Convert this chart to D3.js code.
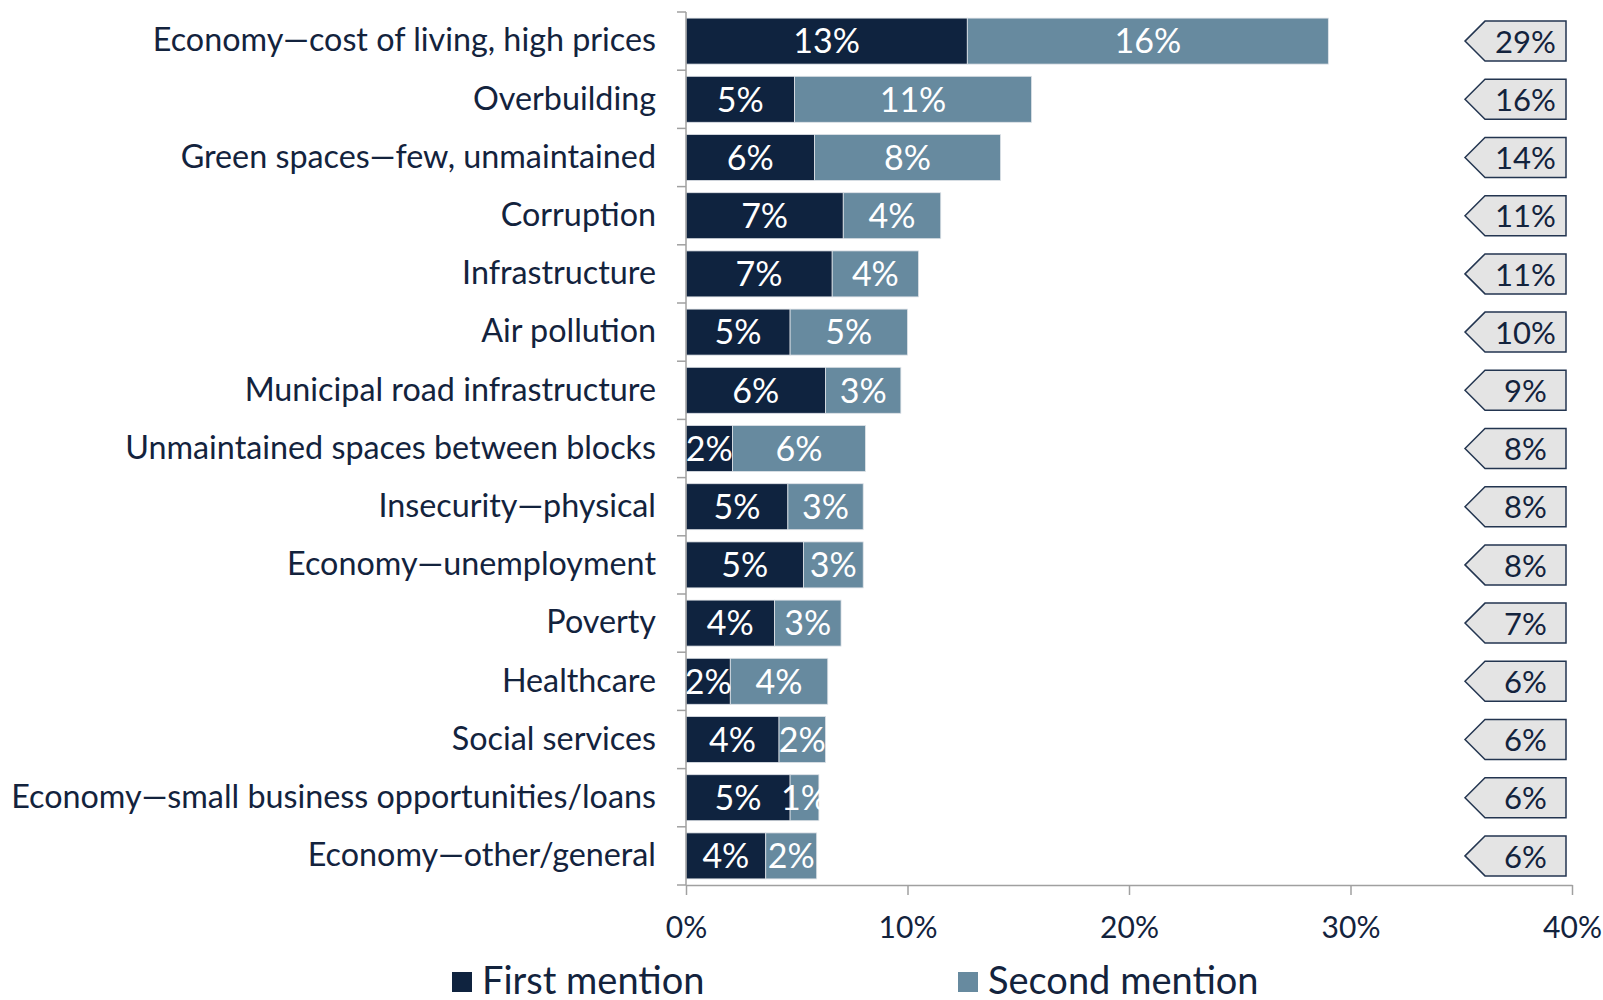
<!DOCTYPE html>
<html>
<head>
<meta charset="utf-8">
<script src="https://cdn.jsdelivr.net/npm/d3@7"></script>
<style>
  body { margin: 0; background: #fff; }
  svg { display: block; font-family: Lato, "Open Sans", sans-serif; }
</style>
</head>
<body>
<div id="chart"></div>
<script>
// categories, top to bottom
var categories = [
  'Economy\u2014cost of living, high prices',
  'Overbuilding',
  'Green spaces\u2014few, unmaintained',
  'Corruption',
  'Infrastructure',
  'Air pollution',
  'Municipal road infrastructure',
  'Unmaintained spaces between blocks',
  'Insecurity\u2014physical',
  'Economy\u2014unemployment',
  'Poverty',
  'Healthcare',
  'Social services',
  'Economy\u2014small business opportunities/loans',
  'Economy\u2014other/general'
];

// share of respondents (%)
var firstMention  = [12.7, 4.9, 5.8, 7.1, 6.6, 4.7, 6.3, 2.1, 4.6, 5.3, 4.0, 2.0, 4.2, 4.7, 3.6];
var secondMention = [16.3, 10.7, 8.4, 4.4, 3.9, 5.3, 3.4, 6.0, 3.4, 2.7, 3.0, 4.4, 2.1, 1.3, 2.3];

var xTicks = [0, 10, 20, 30, 40];
var seriesNames = ['First mention', 'Second mention'];

var colors = { first: '#0f233f', second: '#678a9f', text: '#13233d', axis: '#a0a0a0' };

var width = 1603, height = 1000;
var margin = { left: 686, top: 12, right: 31, bottom: 115 };

var svg = d3.select('#chart').append('svg')
  .attr('width', width)
  .attr('height', height);

var x = d3.scaleLinear().domain([0, 40]).range([margin.left, width - margin.right]);
var y = d3.scaleBand().domain(categories).range([margin.top, height - margin.bottom]).paddingInner(0.21).paddingOuter(0.105);

var rows = categories.map(function (c, i) {
  var a = Math.round(firstMention[i]), b = Math.round(secondMention[i]);
  return { name: c, first: firstMention[i], second: secondMention[i], firstLabel: a + '%', secondLabel: b + '%', total: (a + b) + '%' };
});

// bars
var g = svg.append('g');
var row = g.selectAll('.row').data(rows).enter().append('g').attr('class', 'row');

row.append('rect')
  .attr('x', x(0))
  .attr('y', function (d) { return y(d.name); })
  .attr('width', function (d) { return x(d.first) - x(0); })
  .attr('height', y.bandwidth())
  .attr('fill', colors.first)
  .attr('stroke', '#dfe3e8').attr('stroke-width', 0.8);

row.append('rect')
  .attr('x', function (d) { return x(d.first); })
  .attr('y', function (d) { return y(d.name); })
  .attr('width', function (d) { return x(d.first + d.second) - x(d.first); })
  .attr('height', y.bandwidth())
  .attr('fill', colors.second)
  .attr('stroke', '#dfe3e8').attr('stroke-width', 0.8);

row.append('text')
  .attr('x', function (d) { return (x(0) + x(d.first)) / 2; })
  .attr('y', function (d) { return y(d.name) + y.bandwidth() / 2; })
  .attr('dy', '0.36em')
  .attr('text-anchor', 'middle')
  .attr('fill', '#fff')
  .style('font-size', '34px')
  .text(function (d) { return d.firstLabel; });

row.append('text')
  .attr('x', function (d) { return (x(d.first) + x(d.first + d.second)) / 2; })
  .attr('y', function (d) { return y(d.name) + y.bandwidth() / 2; })
  .attr('dy', '0.36em')
  .attr('text-anchor', 'middle')
  .attr('fill', '#fff')
  .style('font-size', '34px')
  .text(function (d) { return d.secondLabel; });

// total callouts, arrow-shaped boxes on the right
var boxRight = 1566, boxLeft = 1485, tipX = 1465, boxH = 40;
var callout = svg.append('g').selectAll('g').data(rows).enter().append('g')
  .attr('transform', function (d) { return 'translate(0,' + (y(d.name) + y.bandwidth() / 2) + ')'; });

callout.append('path')
  .attr('d', 'M' + tipX + ',0 L' + boxLeft + ',' + (-boxH / 2) + ' H' + boxRight + ' V' + (boxH / 2) + ' H' + boxLeft + ' Z')
  .attr('fill', '#e4e4e4')
  .attr('stroke', '#233550')
  .attr('stroke-width', 1.5);

callout.append('text')
  .attr('x', (boxLeft + boxRight) / 2)
  .attr('dy', '0.38em')
  .attr('text-anchor', 'middle')
  .attr('fill', colors.text)
  .style('font-size', '31px')
  .text(function (d) { return d.total; });

// y axis
var yAxis = svg.append('g')
  .attr('transform', 'translate(' + x(0) + ',0)')
  .call(d3.axisLeft(y).tickSize(0).tickPadding(30));
yAxis.select('.domain').remove();
yAxis.selectAll('text').attr('fill', colors.text).attr('dy', '0.32em').style('font-size', '32.3px').style('font-family', 'Lato, sans-serif');

// category separators
var bounds = d3.range(categories.length + 1).map(function (i) { return margin.top + i * y.step(); });
svg.append('g').selectAll('line').data(bounds).enter().append('line')
  .attr('x1', x(0) - 9).attr('x2', x(0))
  .attr('y1', function (d) { return d; }).attr('y2', function (d) { return d; })
  .attr('stroke', colors.axis).attr('stroke-width', 1.5);
svg.append('line')
  .attr('x1', x(0)).attr('x2', x(0))
  .attr('y1', margin.top).attr('y2', height - margin.bottom)
  .attr('stroke', colors.axis).attr('stroke-width', 1.5);

// x axis
var xAxis = svg.append('g')
  .attr('transform', 'translate(0,' + (height - margin.bottom) + ')')
  .call(d3.axisBottom(x).tickValues(xTicks).tickSize(10).tickSizeOuter(0).tickPadding(22).tickFormat(function (d) { return d + '%'; }));
xAxis.select('.domain').attr('stroke', colors.axis).attr('stroke-width', 1.5);
xAxis.selectAll('line').attr('stroke', colors.axis).attr('stroke-width', 1.5);
xAxis.selectAll('text').attr('fill', colors.text).style('font-size', '30px').style('font-family', 'Lato, sans-serif');

// legend
var legendX = [452, 958];
var legend = svg.append('g').selectAll('g').data(seriesNames).enter().append('g')
  .attr('transform', function (d, i) { return 'translate(' + legendX[i] + ',972)'; });
legend.append('rect')
  .attr('width', 20).attr('height', 20)
  .attr('fill', function (d, i) { return i === 0 ? colors.first : colors.second; });
legend.append('text')
  .attr('x', 30).attr('y', 22)
  .attr('fill', colors.text)
  .style('font-size', '38px')
  .text(function (d) { return d; });
</script>
</body>
</html>
